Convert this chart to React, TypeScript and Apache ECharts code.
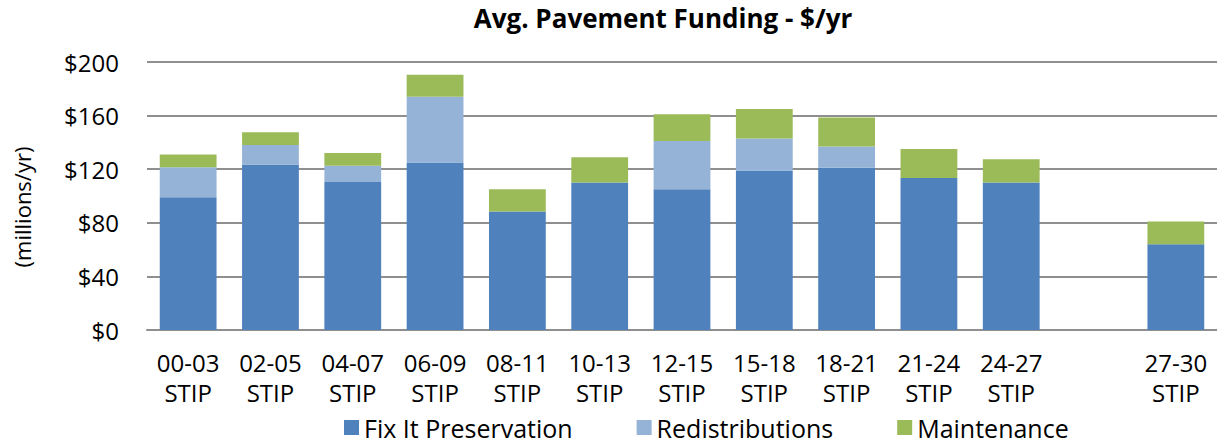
import React, { useEffect, useRef } from "react";
import * as echarts from "echarts";

const categories = [
  "00-03\nSTIP", "02-05\nSTIP", "04-07\nSTIP", "06-09\nSTIP", "08-11\nSTIP",
  "10-13\nSTIP", "12-15\nSTIP", "15-18\nSTIP", "18-21\nSTIP", "21-24\nSTIP",
  "24-27\nSTIP", "", "27-30\nSTIP",
];
const fixItPreservation = [99, 123.5, 110.5, 125, 88.5, 110, 105, 119, 121, 113.5, 110, null, 64];
const redistributions = [22.5, 14.5, 12, 49, 0, 0, 36, 24, 16, 0, 0, null, 0];
const maintenance = [9.5, 9.5, 9.5, 16.5, 16.5, 19, 20, 22, 21.5, 21.5, 17.5, null, 17];
const yTicks = { min: 0, max: 200, interval: 40 };

const FONT = "'Open Sans', sans-serif";

export default function App() {
  const ref = useRef<HTMLDivElement>(null);
  useEffect(() => {
    if (!ref.current) return;
    const chart = echarts.init(ref.current, undefined, { renderer: "svg" });
    const gridColor = "#8f8f8f";
    chart.setOption({
      animation: false,
      textStyle: { fontFamily: FONT },
      title: {
        text: "Avg. Pavement Funding - $/yr",
        left: 658,
        textAlign: "center",
        top: 0,
        textStyle: { fontFamily: FONT, fontSize: 26, fontWeight: "bold", color: "#000" },
      },
      legend: {
        left: 339,
        top: 409,
        itemWidth: 15,
        itemHeight: 15,
        itemGap: 64,
        icon: "rect",
        textStyle: { fontFamily: FONT, fontSize: 25, lineHeight: 27, color: "#000" },
        data: ["Fix It Preservation", "Redistributions", "Maintenance"],
      },
      grid: { left: 147, right: -2, top: 62, bottom: 114, containLabel: false },
      xAxis: {
        type: "category",
        data: categories,
        axisLine: { lineStyle: { color: gridColor, width: 2 } },
        axisTick: { show: false },
        axisLabel: {
          interval: 0,
          margin: 17,
          fontFamily: FONT,
          fontSize: 24,
          lineHeight: 30,
          color: "#000",
        },
      },
      yAxis: {
        type: "value",
        min: yTicks.min,
        max: yTicks.max,
        interval: yTicks.interval,
        axisLine: { show: false },
        axisTick: { show: false },
        splitLine: { lineStyle: { color: gridColor, width: 2 } },
        axisLabel: {
          margin: 28,
          fontFamily: FONT,
          fontSize: 24,
          color: "#000",
          formatter: (v: number) => "$" + v,
        },
      },
      graphic: [
        {
          type: "text",
          x: 22,
          y: 207,
          rotation: Math.PI / 2,
          style: {
            text: "(millions/yr)",
            fontFamily: FONT,
            fontSize: 22,
            fill: "#000",
            textAlign: "center",
            textVerticalAlign: "middle",
          },
        },
      ],
      series: [
        {
          name: "Fix It Preservation",
          type: "bar",
          stack: "total",
          barCategoryGap: "31%",
          itemStyle: { color: "#4F81BD" },
          data: fixItPreservation,
        },
        {
          name: "Redistributions",
          type: "bar",
          stack: "total",
          itemStyle: { color: "#95B3D7" },
          data: redistributions,
        },
        {
          name: "Maintenance",
          type: "bar",
          stack: "total",
          itemStyle: { color: "#9BBB59" },
          data: maintenance,
        },
      ],
    });
    return () => chart.dispose();
  }, []);
  return (
    <div
      ref={ref}
      style={{ position: "absolute", left: 0, top: 0, width: 1217, height: 444 }}
    />
  );
}
